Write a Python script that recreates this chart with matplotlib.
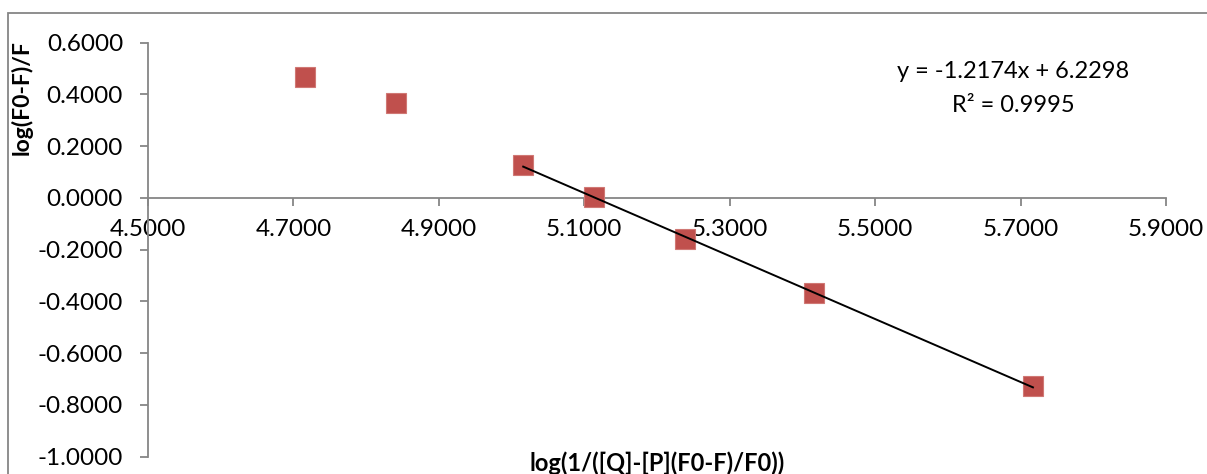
import matplotlib.pyplot as plt
import numpy as np
from matplotlib.patches import Rectangle

plt.rcParams['font.family'] = ['Lato', 'DejaVu Sans']

# data
x_vals = [4.716, 4.841, 5.016, 5.113, 5.239, 5.416, 5.717]
y_vals = [0.469, 0.365, 0.129, 0.002, -0.160, -0.369, -0.728]
fit_from = 2  # trendline uses points 3..7
eq_text = "y = -1.2174x + 6.2298"
r2_text = "R\u00b2 = 0.9995"
x_ticks = [4.5, 4.7, 4.9, 5.1, 5.3, 5.5, 5.7, 5.9]
y_ticks = [-1.0, -0.8, -0.6, -0.4, -0.2, 0.0, 0.2, 0.4, 0.6]

W, H = 1207, 474
fig = plt.figure(figsize=(W / 100, H / 100), dpi=100)
ax = fig.add_axes([148 / W, 1 - 456.5 / H, (1166 - 148) / W, (456.5 - 42.7) / H])

grey = '#868686'
ax.plot(x_vals, y_vals, ls='none', marker='s', ms=14.5, mfc='#C0504D', mec='#D07874', mew=0.8, zorder=3)

xs = np.array(x_vals[fit_from:])
ys = np.array(y_vals[fit_from:])
k, b = np.polyfit(xs, ys, 1)
xl = np.array([xs.min(), xs.max()])
ax.plot(xl, k * xl + b, color='black', lw=1.4, zorder=4)

ax.set_xlim(4.5, 5.9)
ax.set_ylim(-1.0, 0.6)
ax.set_xticks(x_ticks)
ax.set_yticks(y_ticks)
ax.set_xticklabels([f"{v:.4f}" for v in x_ticks])
ax.set_yticklabels([f"{v:.4f}" for v in y_ticks])

for s in ['top', 'right']:
    ax.spines[s].set_visible(False)
ax.spines['bottom'].set_position(('data', 0))
ax.spines['bottom'].set_color(grey)
ax.spines['left'].set_color(grey)
ax.spines['bottom'].set_linewidth(1.3)
ax.spines['left'].set_linewidth(1.3)
ax.tick_params(axis='y', direction='out', length=6, width=1.3, color=grey, labelsize=17.5, pad=12)
ax.tick_params(axis='x', direction='out', length=5.5, width=1.3, color=grey, labelsize=17.5, pad=10)

fig.text(22 / W, 1 - 98 / H, "log(F0-F)/F", rotation=90, ha='center', va='center',
         fontsize=16.5, fontweight='bold')
fig.text(657 / W, 1 - 463 / H, "log(1/([Q]-[P](F0-F)/F0))", ha='center', va='center',
         fontsize=17, fontweight='bold')
fig.text(1013 / W, 1 - 72 / H, eq_text, ha='center', va='center', fontsize=17)
fig.text(1013 / W, 1 - 106 / H, r2_text, ha='center', va='center', fontsize=17)

# outer chart frame (only top and left edges visible)
fig.patches.append(Rectangle((8 / W, -0.1), 1.2, 1 - 13 / H + 0.1, transform=fig.transFigure,
                             fill=False, edgecolor=grey, lw=1.3, zorder=0))

fig.savefig('out.png', dpi=100)
